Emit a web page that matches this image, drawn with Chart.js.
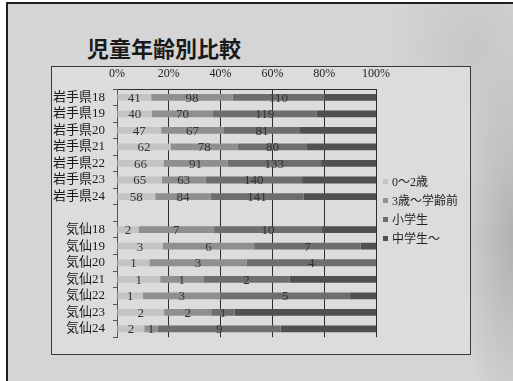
<!DOCTYPE html>
<html>
<head>
<meta charset="utf-8">
<script src="https://cdn.jsdelivr.net/npm/chart.js@4/dist/chart.umd.min.js"></script>
<style>
  html, body { margin: 0; padding: 0; width: 513px; height: 381px; overflow: hidden; background: #ffffff; }
  #slide {
    position: absolute; left: 6px; top: 2px; width: 507px; height: 379px;
    border-left: 2px solid #1e1e1e; border-top: 2px solid #1e1e1e;
    background-color: #d5d5d5;
    background-image:
      radial-gradient(ellipse 60px 190px at 100% 62%, rgba(140,140,140,0.5), rgba(140,140,140,0) 100%),
      radial-gradient(ellipse 90px 120px at 92% 12%, rgba(165,165,165,0.3), rgba(165,165,165,0) 100%);
  }
  #title {
    position: absolute; left: 87px; top: 33px;
    font: 700 22px "Noto Sans CJK JP", sans-serif; color: #1a1a1a; line-height: 28px;
  }
  #box {
    position: absolute; left: 51px; top: 66px; width: 418px; height: 287px;
    border: 1px solid #3a3a3a; background: #dcdcdc;
  }
  #box canvas { position: absolute; left: 0; top: 0; }
  #legend { position: absolute; left: 0; top: 0; }
  .item {
    position: absolute; left: 383px; height: 16px; line-height: 16px; white-space: nowrap;
    font: 12px "Liberation Serif", "Noto Sans CJK JP", serif; color: #1e1e1e;
  }
  .item i { display: inline-block; width: 5px; height: 5px; margin-right: 4px; vertical-align: 2px; }
</style>
</head>
<body>
<div id="slide"></div>
<div id="title">児童年齢別比較</div>
<div id="box"><canvas id="chart" width="417" height="286"></canvas></div>
<div id="legend"></div>
<script>
// Rows: Iwate prefecture and Kesen area, fiscal years 18-24, with a blank spacer row between them
const categories = ['岩手県18', '岩手県19', '岩手県20', '岩手県21', '岩手県22', '岩手県23', '岩手県24', '',
                    '気仙18', '気仙19', '気仙20', '気仙21', '気仙22', '気仙23', '気仙24'];
const seriesNames = ['0～2歳', '3歳～学齢前', '小学生', '中学生～'];

// Head counts per age group
const age0to2     = [41, 40, 47, 62, 66, 65, 58, null, 2, 3, 1, 1, 1, 2, 2];
const age3toPre   = [98, 70, 67, 78, 91, 63, 84, null, 7, 6, 3, 1, 3, 2, 1];
const elementary  = [110, 119, 81, 80, 133, 140, 141, null, 10, 7, 4, 2, 5, 1, 9];
const juniorHigh  = [62, 68, 81, 80, 78, 107, 110, null, 5, 1, 0, 2, 1, 6, 7];

const percentTicks = [0, 20, 40, 60, 80, 100];

const seriesColors = ['#c4c4c4', '#8f8f8f', '#6e6e6e', '#505050'];
const allCounts = [age0to2, age3toPre, elementary, juniorHigh];

// Share of each group within its row (100% stacked)
const totals = categories.map((_, j) => allCounts.reduce((s, arr) => s + (arr[j] || 0), 0));
const toShare = arr => arr.map((v, j) => (v == null || !totals[j]) ? null : v / totals[j] * 100);

const datasets = allCounts.map((counts, i) => ({
  label: seriesNames[i],
  data: toShare(counts),
  counts: counts,
  showValues: i < 3,
  backgroundColor: seriesColors[i],
  borderWidth: 0,
  barPercentage: 0.41,
  categoryPercentage: 1.0
}));

// Count labels centred in each segment
const valueLabels = {
  id: 'valueLabels',
  afterDatasetsDraw(chart) {
    const ctx = chart.ctx;
    ctx.save();
    ctx.font = '13px "Liberation Serif", serif';
    ctx.fillStyle = '#333333';
    ctx.textAlign = 'center';
    ctx.textBaseline = 'middle';
    chart.data.datasets.forEach((ds, i) => {
      if (!ds.showValues) return;
      chart.getDatasetMeta(i).data.forEach((bar, j) => {
        const v = ds.counts[j];
        if (v == null) return;
        const p = bar.getProps(['x', 'base', 'y'], true);
        ctx.fillText(String(v), (p.x + p.base) / 2, p.y + 1);
      });
    });
    ctx.restore();
  }
};

new Chart(document.getElementById('chart'), {
  type: 'bar',
  data: { labels: categories, datasets: datasets },
  options: {
    indexAxis: 'y',
    responsive: false,
    animation: false,
    layout: { padding: { left: 0, right: 93, top: 0, bottom: 7 } },
    plugins: { legend: { display: false }, tooltip: { enabled: false }, title: { display: false } },
    scales: {
      x: {
        position: 'top',
        stacked: true,
        min: 0, max: 100,
        afterBuildTicks: s => { s.ticks = percentTicks.map(v => ({ value: v })); },
        afterFit: s => { s.height = 22; },
        grid: { color: '#2e2e2e', lineWidth: 1, drawTicks: false },
        border: { display: true, color: '#2e2e2e' },
        ticks: {
          padding: 8,
          color: '#222222',
          font: { family: '"Liberation Serif", serif', size: 12 },
          callback: v => v + '%'
        }
      },
      y: {
        stacked: true,
        afterFit: s => { s.width = 65; },
        grid: { drawOnChartArea: false, drawTicks: true, tickLength: 4, color: '#555555' },
        border: { display: true, color: '#555555' },
        ticks: {
          padding: 8,
          autoSkip: false,
          color: '#1a1a1a',
          font: { family: '"Liberation Serif", "Noto Sans CJK JP", serif', size: 13 }
        }
      }
    }
  },
  plugins: [valueLabels]
});

// Legend beside the plot
const legend = document.getElementById('legend');
const legendCenters = [180, 199, 218, 237];
seriesNames.forEach((name, i) => {
  const d = document.createElement('div');
  d.className = 'item';
  d.style.top = (legendCenters[i] - 8) + 'px';
  const sw = document.createElement('i');
  sw.style.background = seriesColors[i];
  d.appendChild(sw);
  d.appendChild(document.createTextNode(name));
  legend.appendChild(d);
});
</script>
</body>
</html>
